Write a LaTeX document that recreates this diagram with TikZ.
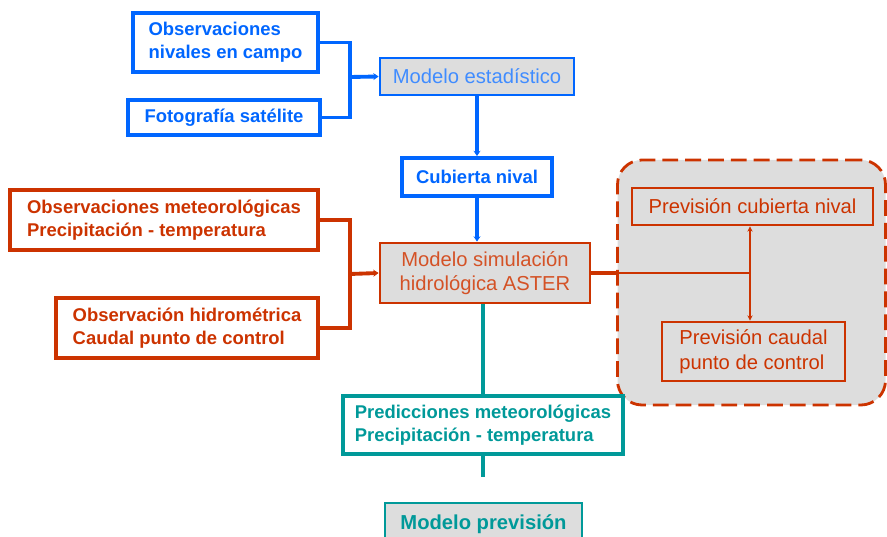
\documentclass[tikz,border=0pt]{standalone}
\usepackage{fontspec}
\setmainfont{Liberation Sans}
\usetikzlibrary{
  positioning,
  arrows.meta
}
\definecolor{nieve}{HTML}{0066FF}
\definecolor{hidro}{HTML}{CC3300}
\definecolor{predic}{HTML}{009999}
\definecolor{fondo}{HTML}{DDDDDD}

\begin{document}
\begin{tikzpicture}[
  x=0.02cm, y=-0.02cm,
  caja/.style 2 args={minimum width=#1*0.02cm, minimum height=#2*0.02cm},
  dato/.style={draw=#1, text=#1, line width=2.2pt, fill=white, inner sep=0pt, align=left,
               font=\bfseries\fontsize{10.5}{13}\selectfont},
  modelo/.style={draw, line width=1.6pt, fill=fondo, inner sep=0pt, align=center,
                 font=\fontsize{11.5}{14}\selectfont},
  linea/.style={line width=2.2pt},
  flecha/.style={line width=2.2pt, -{Stealth[length=3pt,width=4pt]}}
]
  \clip (0,0) rectangle (887,537);

  % Nieve: observaciones y modelo estadistico
  \node[dato=nieve, caja={185}{59}] (obsniv) at (225.5,42.5)
    {Observaciones\\nivales en campo};
  \node[dato=nieve, caja={192}{35}] (foto) at (224,117.5) {Fotografía satélite};
  \node[modelo, draw=nieve, text=nieve!75, caja={194}{37}] (modest) at (477,76.5)
    {Modelo estadístico};
  \node[dato=nieve, caja={150}{38}] (cubierta) at (477,177) {Cubierta nival};

  % Hidrologia: observaciones y modelo ASTER
  \node[dato=hidro, caja={308}{60}] (obsmet) at (164,220)
    {Observaciones meteorológicas\\Precipitación - temperatura};
  \node[dato=hidro, caja={262}{60}] (obshid) at (187,328)
    {Observación hidrométrica\\Caudal punto de control};
  \node[modelo, draw=hidro, text=hidro!85, caja={210}{60}] (modsim) at (485,273)
    {Modelo simulación\\hidrológica ASTER};

  % Previsiones
  \node[draw=hidro, line width=1.6pt, dash pattern=on 9pt off 4pt, fill=fondo,
        rounded corners=14pt, caja={268}{245}] (grupo) at (751.5,282.5) {};
  \node[modelo, draw=hidro, text=hidro, caja={241}{37}] (prevcub) at (752.5,206.5)
    {Previsión cubierta nival};
  \node[modelo, draw=hidro, text=hidro, align=left, caja={183}{59}] (prevcau) at (753.5,351.5)
    {Previsión caudal\\punto de control};

  % Prediccion meteorologica
  \node[dato=predic, caja={280}{58}] (pred) at (483,425)
    {Predicciones meteorológicas\\Precipitación - temperatura};
  \node[modelo, draw=predic, text=predic, font=\bfseries\fontsize{11.5}{14}\selectfont,
        caja={197}{42}] (modprev) at (483.5,524) {Modelo previsión};

  % Conectores
  \coordinate (j1) at (350,77);
  \coordinate (j2) at (350,274);
  \coordinate (j3) at (750,273);
  \coordinate (j4) at (483,477);
  \draw[linea, nieve] (obsniv.east) -| (j1);
  \draw[linea, nieve] (foto.east) -| (j1);
  \draw[flecha, nieve] (j1) -- (modest.west);
  \draw[flecha, nieve] (modest.south) -- (cubierta.north);
  \draw[flecha, nieve] (cubierta.south) -- (cubierta.south |- modsim.north);
  \draw[linea, hidro] (obsmet.east) -| (j2);
  \draw[linea, hidro] (obshid.east) -| (j2);
  \draw[flecha, hidro] (j2) -- (modsim.west);
  \draw[linea, hidro] (modsim.east) -- (modsim.east -| grupo.west);
  \draw[hidro, line width=1.2pt] (modsim.east -| grupo.west) -- (j3);
  \draw[hidro, line width=1.2pt, -{Stealth[length=3pt,width=3pt]}] (j3) -- (j3 |- prevcub.south);
  \draw[hidro, line width=1.2pt, -{Stealth[length=3pt,width=3pt]}] (j3) -- (j3 |- prevcau.north);
  \draw[linea, predic, line width=2.6pt] (pred.north |- modsim.south) -- (pred.north);
  \draw[linea, predic, line width=2.6pt] (pred.south) -- (j4);
\end{tikzpicture}
\end{document}
